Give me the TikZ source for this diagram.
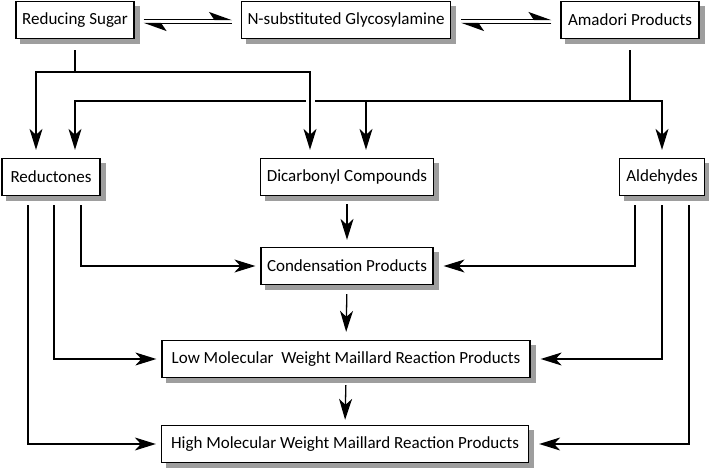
\documentclass[tikz,border=0pt]{standalone}
\usepackage{fontspec}
\setmainfont{Carlito}
\usetikzlibrary{arrows.meta, backgrounds}

\tikzset{
  box/.style={draw, line width=1.3pt, fill=white, minimum height=37pt, inner xsep=6pt,
    font=\fontsize{17}{20}\selectfont},
  shade box/.style={fill=black!38},
  link/.style={line width=1.3pt},
  flow/.style={link, -{Stealth[length=21pt, width=13pt, inset=6pt]}},
  fwd/.style={link, -{Stealth[harpoon, length=21pt, width=15pt, inset=5pt]}}
}

\begin{document}
\begin{tikzpicture}[x=1pt, y=-1pt]
\useasboundingbox (0,0) rectangle (709,470);

\node[box, minimum width=118pt] (sugar) at (75,20) {Reducing Sugar};
\node[box, minimum width=208pt] (amine) at (346,20) {N-substituted Glycosylamine};
\node[box, minimum width=138pt] (amadori) at (630,20) {Amadori Products};
\node[box, minimum width=98pt] (redu) at (51,177) {Reductones};
\node[box, minimum width=171pt] (dicarb) at (347,177) {Dicarbonyl Compounds};
\node[box, minimum width=85pt] (alde) at (662,177) {Aldehydes};
\node[box, minimum width=171pt] (cond) at (347,266) {Condensation Products};
\node[box, minimum width=368pt] (lmw) at (346,359) {Low Molecular\ \ Weight Maillard Reaction Products};
\node[box, minimum width=367pt] (hmw) at (345,444) {High Molecular Weight Maillard Reaction Products};

\begin{scope}[on background layer]
\foreach \n in {sugar, amine, amadori, redu, dicarb, alde, cond, lmw, hmw}
  \fill[shade box] ([shift={(5,5)}]\n.south west) rectangle ([shift={(5,5)}]\n.north east);
\end{scope}

\draw[fwd] ([shift={(9,-0.5)}]sugar.east) -- ([shift={(-9,-0.5)}]amine.west);
\draw[fwd] ([shift={(-9,3.5)}]amine.west) -- ([shift={(9,3.5)}]sugar.east);
\draw[fwd] ([shift={(10,-0.5)}]amine.east) -- ([shift={(-9,-0.5)}]amadori.west);
\draw[fwd] ([shift={(-9,3.5)}]amadori.west) -- ([shift={(10,3.5)}]amine.east);

\coordinate (sj) at (75,72);
\draw[link, shorten <=11pt] (sugar.south) -- (sj);
\draw[flow, shorten >=8pt] (sj) -| ([xshift=-15pt]redu.north);
\draw[flow, shorten >=8pt] (sj) -| ([xshift=-37pt]dicarb.north);

\coordinate (aj) at (630,101);
\coordinate (gapL) at (306,101);
\coordinate (gapR) at (315,101);
\draw[link, shorten <=11pt] (amadori.south) -- (aj);
\draw[flow, shorten >=8pt] (aj) -| (alde.north);
\draw[link] (aj) -- (gapR);
\draw[flow, shorten >=8pt] (gapL) -| ([xshift=24pt]redu.north);
\draw[flow, shorten >=8pt] ([xshift=19pt]dicarb.north |- aj) -- ([xshift=19pt]dicarb.north);

\draw[flow, shorten <=9pt, shorten >=5pt] ([xshift=30pt]redu.south) |- (cond.west);
\draw[flow, shorten <=9pt, shorten >=5pt] ([xshift=3pt]redu.south) |- (lmw.west);
\draw[flow, shorten <=9pt, shorten >=5pt] ([xshift=-23pt]redu.south) |- (hmw.west);

\draw[flow, shorten <=9pt, shorten >=10pt] ([xshift=-27pt]alde.south) |- (cond.east);
\draw[flow, shorten <=9pt, shorten >=10pt] (alde.south) |- (lmw.east);
\draw[flow, shorten <=9pt, shorten >=10pt] ([xshift=27pt]alde.south) |- (hmw.east);

\draw[flow, shorten <=8pt, shorten >=7pt] (dicarb.south) -- (cond.north);
\draw[flow, shorten <=9pt, shorten >=8pt] (cond.south) -- (lmw.north);
\draw[flow, shorten <=7pt, shorten >=5pt] (lmw.south) -- (hmw.north);
\end{tikzpicture}
\end{document}
